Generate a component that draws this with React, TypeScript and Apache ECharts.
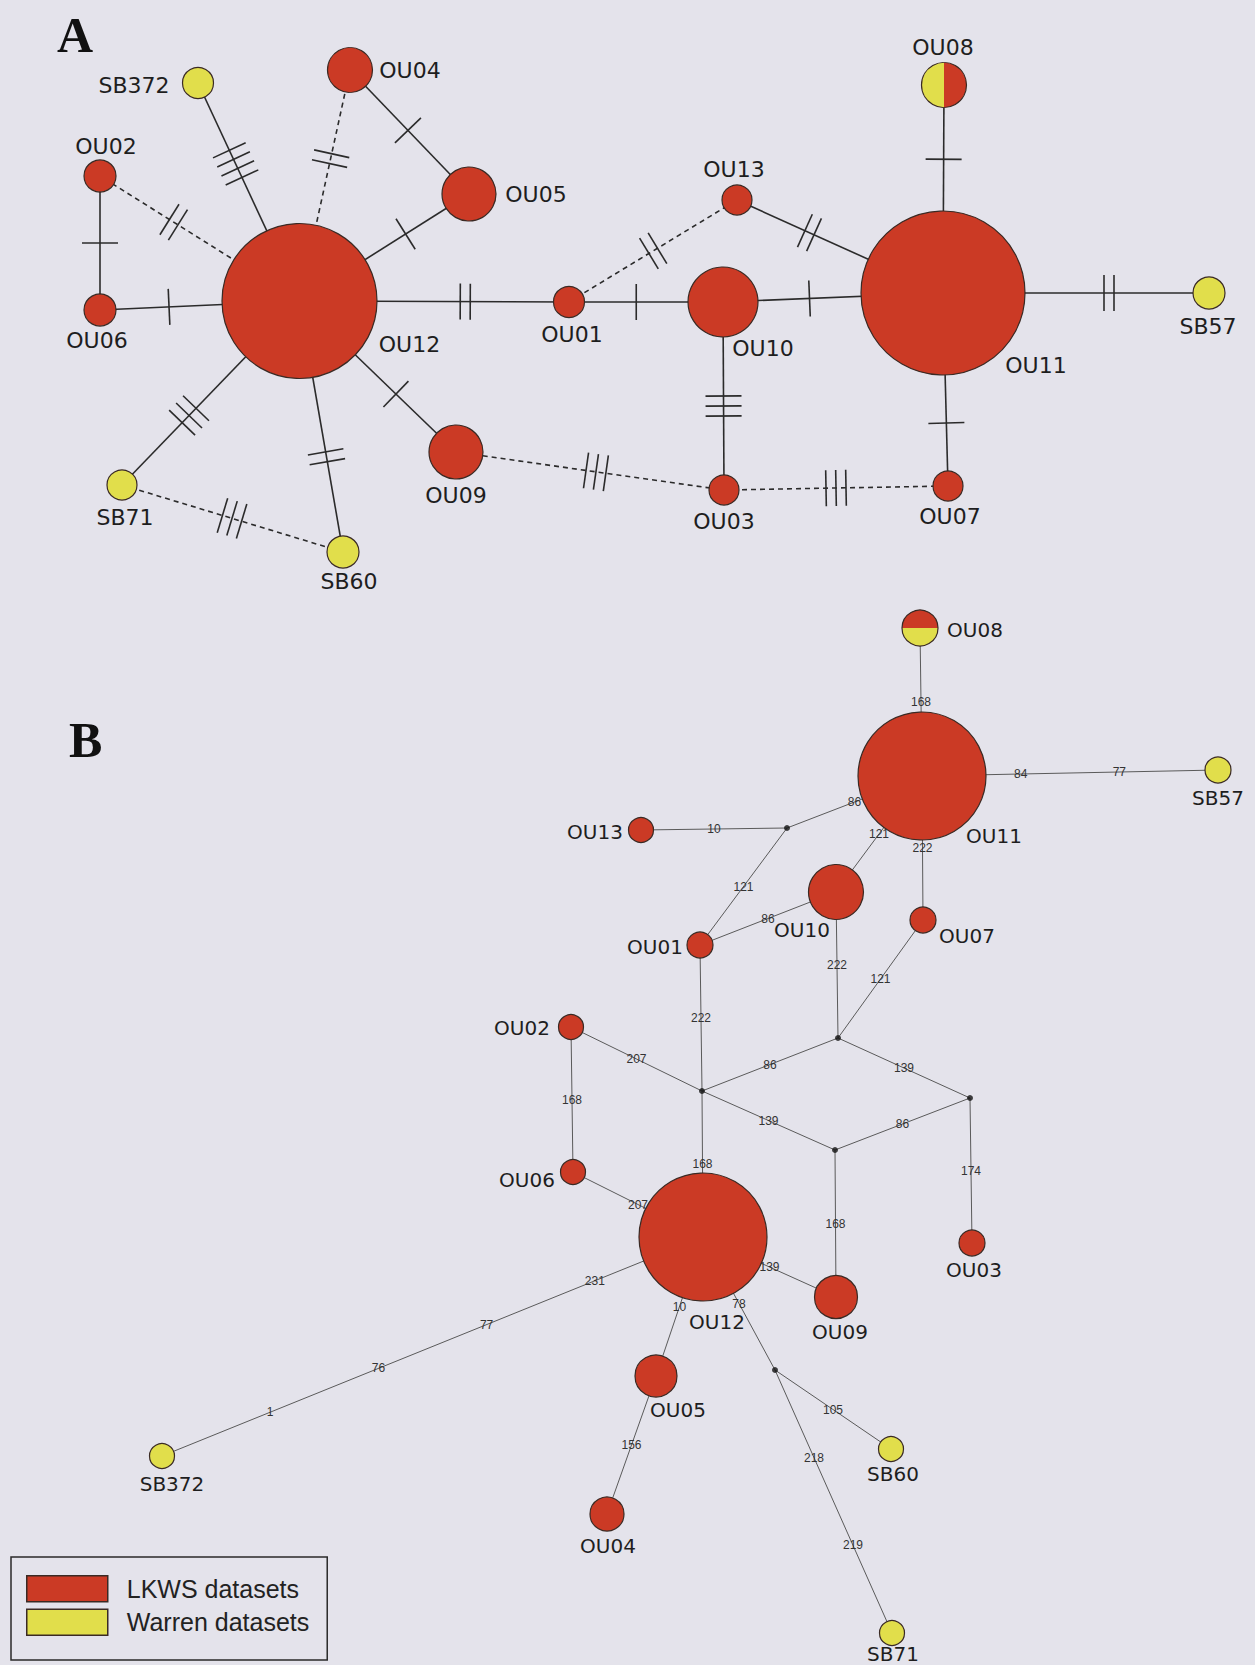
import React, { useEffect, useRef } from 'react';
import * as echarts from 'echarts';

const W = 1255;
const H = 1665;
const RED = '#cb3a25';
const YELLOW = '#e1de4b';
const BG = '#e4e3eb';
const INK = '#2b2b2b';
const NODE_BORDER = '#3a2a24';

// haplotype: name, x, y, radius (frequency-scaled), group (L = LKWS, W = Warren, M = mixed)
type Hap = [string, number, number, number, string];

// Panel A (median-joining network with mutation ticks)
const hapA: Hap[] = [
  ['OU12', 299.5, 301, 77.5, 'L'],
  ['OU11', 943, 293, 82, 'L'],
  ['OU10', 723, 302, 35, 'L'],
  ['OU05', 469, 194, 27, 'L'],
  ['OU04', 350, 70, 22.5, 'L'],
  ['OU09', 456, 452, 27, 'L'],
  ['OU02', 100, 176, 16, 'L'],
  ['OU06', 100, 310, 16, 'L'],
  ['OU01', 569, 302, 15.5, 'L'],
  ['OU13', 737, 200, 15, 'L'],
  ['OU03', 724, 490, 15, 'L'],
  ['OU07', 948, 486, 15, 'L'],
  ['OU08', 944, 85, 22.5, 'M'],
  ['SB372', 198, 83, 15.5, 'W'],
  ['SB57', 1209, 293, 16, 'W'],
  ['SB71', 122, 485, 15, 'W'],
  ['SB60', 343, 552, 16, 'W'],
];

// from, to, number of mutations, dashed (1 = alternative link)
const edgesA: [string, string, number, number][] = [
  ['OU12', 'SB372', 4, 0],
  ['OU12', 'OU04', 2, 1],
  ['OU04', 'OU05', 1, 0],
  ['OU12', 'OU05', 1, 0],
  ['OU12', 'OU02', 2, 1],
  ['OU02', 'OU06', 1, 0],
  ['OU06', 'OU12', 1, 0],
  ['OU12', 'OU01', 2, 0],
  ['OU12', 'OU09', 1, 0],
  ['OU12', 'SB60', 2, 0],
  ['OU12', 'SB71', 3, 0],
  ['SB71', 'SB60', 3, 1],
  ['OU01', 'OU13', 2, 1],
  ['OU01', 'OU10', 1, 0],
  ['OU10', 'OU11', 1, 0],
  ['OU13', 'OU11', 2, 0],
  ['OU10', 'OU03', 3, 0],
  ['OU09', 'OU03', 3, 1],
  ['OU03', 'OU07', 3, 1],
  ['OU11', 'OU07', 1, 0],
  ['OU11', 'OU08', 1, 0],
  ['OU11', 'SB57', 2, 0],
];

// Panel B (network with mutated positions)
const hapB: Hap[] = [
  ['OU11', 922, 776, 64, 'L'],
  ['OU12', 703, 1237, 64, 'L'],
  ['OU10', 836, 892, 27.5, 'L'],
  ['OU09', 836, 1297, 21.5, 'L'],
  ['OU05', 656, 1376, 21, 'L'],
  ['OU04', 607, 1514, 17, 'L'],
  ['OU13', 641, 830, 12.5, 'L'],
  ['OU07', 923, 920, 13, 'L'],
  ['OU01', 700, 945, 13, 'L'],
  ['OU02', 571, 1027, 12.5, 'L'],
  ['OU06', 573, 1172, 12.5, 'L'],
  ['OU03', 972, 1243, 13, 'L'],
  ['OU08', 920, 628, 18, 'M'],
  ['SB57', 1218, 770, 13, 'W'],
  ['SB60', 891, 1449, 12.5, 'W'],
  ['SB372', 162, 1456, 12.5, 'W'],
  ['SB71', 892, 1633, 12.5, 'W'],
];

const junctionsB: [string, number, number][] = [
  ['J1', 787, 828],
  ['J2', 838, 1038],
  ['J3', 702, 1091],
  ['J4', 970, 1098],
  ['J5', 835, 1150],
  ['J6', 775, 1370],
];

// from, to, mutated positions along the link
const edgesB: [string, string, string[]][] = [
  ['OU08', 'OU11', ['168']],
  ['OU11', 'SB57', ['84', '77']],
  ['OU11', 'J1', ['86']],
  ['OU13', 'J1', ['10']],
  ['OU11', 'OU10', ['121']],
  ['OU11', 'OU07', ['222']],
  ['J1', 'OU01', ['121']],
  ['OU01', 'OU10', ['86']],
  ['OU10', 'J2', ['222']],
  ['OU07', 'J2', ['121']],
  ['OU01', 'J3', ['222']],
  ['OU02', 'J3', ['207']],
  ['J3', 'J2', ['86']],
  ['J2', 'J4', ['139']],
  ['OU02', 'OU06', ['168']],
  ['J3', 'J5', ['139']],
  ['J5', 'J4', ['86']],
  ['J3', 'OU12', ['168']],
  ['J4', 'OU03', ['174']],
  ['OU06', 'OU12', ['207']],
  ['J5', 'OU09', ['168']],
  ['OU12', 'OU09', ['139']],
  ['OU12', 'SB372', ['231', '77', '76', '1']],
  ['OU12', 'OU05', ['10']],
  ['OU12', 'J6', ['78']],
  ['J6', 'SB60', ['105']],
  ['J6', 'SB71', ['218', '219']],
  ['OU05', 'OU04', ['156']],
];

const seriesNames = ['LKWS datasets', 'Warren datasets'];

// label placement (layout, not data): offset of the label centre from the node centre
const labelOffsetA: Record<string, [number, number]> = {
  OU02: [6, -30], OU06: [-3, 30], SB372: [-64, 2], OU04: [60, 0], OU05: [67, 0],
  OU13: [-3, -31], OU01: [3, 32], OU10: [40, 46], OU12: [110, 43], OU11: [93, 72],
  OU08: [-1, -38], SB57: [-1, 33], SB71: [3, 32], SB60: [6, 29], OU09: [0, 43],
  OU03: [0, 31], OU07: [2, 30],
};
const labelOffsetB: Record<string, [number, number]> = {
  OU08: [55, 2], OU11: [72, 60], SB57: [0, 28], OU13: [-46, 2], OU10: [-34, 38],
  OU07: [44, 16], OU01: [-45, 2], OU02: [-49, 1], OU06: [-46, 8], OU12: [14, 85],
  OU03: [2, 27], OU09: [4, 35], OU05: [22, 34], SB60: [2, 25], SB372: [10, 28],
  OU04: [1, 32], SB71: [1, 21],
};

const FONT_A = 22;
const FONT_B = 20;

function findNode(list: Hap[], name: string): { x: number; y: number; r: number } {
  const h = list.find((n) => n[0] === name);
  if (h) return { x: h[1], y: h[2], r: h[3] };
  const j = junctionsB.find((n) => n[0] === name);
  if (j) return { x: j[1], y: j[2], r: 0 };
  return { x: 0, y: 0, r: 0 };
}

function nodeItems(list: Hap[], offsets: Record<string, [number, number]>, group: string, fontSize: number) {
  return list
    .filter((h) => h[4] === group)
    .map((h) => ({
      name: h[0],
      value: [h[1], h[2]],
      symbolSize: h[3] * 2,
      label: { offset: offsets[h[0]], fontSize },
    }));
}

export default function App() {
  const ref = useRef<HTMLDivElement>(null);

  useEffect(() => {
    document.body.style.margin = '0';
    if (!ref.current) return;
    const chart = echarts.init(ref.current, undefined, { renderer: 'svg' });

    const edgeAData = edgesA.map(([a, b, n, d]) => {
      const p = findNode(hapA, a);
      const q = findNode(hapA, b);
      return [p.x, p.y, q.x, q.y, p.r, q.r, n, d];
    });

    const edgeBData = edgesB.map(([a, b]) => {
      const p = findNode(hapB, a);
      const q = findNode(hapB, b);
      return [p.x, p.y, q.x, q.y];
    });

    const edgeLabelData: number[][] = [];
    const edgeLabelText: string[] = [];
    edgesB.forEach(([a, b, labels]) => {
      const p = findNode(hapB, a);
      const q = findNode(hapB, b);
      labels.forEach((t, k) => {
        edgeLabelData.push([p.x, p.y, q.x, q.y, k + 1, labels.length + 1]);
        edgeLabelText.push(t);
      });
    });

    const mixedData: number[][] = [];
    const a8 = findNode(hapA, 'OU08');
    mixedData.push([a8.x, a8.y, a8.r, 0, labelOffsetA.OU08[0], labelOffsetA.OU08[1], FONT_A]);
    const b8 = findNode(hapB, 'OU08');
    mixedData.push([b8.x, b8.y, b8.r, 1, labelOffsetB.OU08[0], labelOffsetB.OU08[1], FONT_B]);

    const nodeLabel = {
      show: true,
      position: 'inside',
      formatter: '{b}',
      color: '#1e1e1e',
      fontFamily: 'DejaVu Sans',
      align: 'center',
      verticalAlign: 'middle',
      textBorderWidth: 0,
    };

    const option: any = {
      animation: false,
      backgroundColor: BG,
      grid: { left: 0, right: 0, top: 0, bottom: 0, outerBoundsMode: 'none' },
      xAxis: { type: 'value', min: 0, max: W, show: false },
      yAxis: { type: 'value', min: 0, max: H, inverse: true, show: false },
      legend: {
        data: seriesNames,
        orient: 'vertical',
        left: 11,
        top: 1557,
        icon: 'rect',
        itemWidth: 81,
        itemHeight: 26,
        itemGap: 6,
        padding: [18, 18, 24, 15],
        borderColor: '#2a2a2a',
        borderWidth: 1.5,
        selectedMode: false,
        itemStyle: { borderColor: '#3a2a24', borderWidth: 1.5 },
        textStyle: {
          fontFamily: 'Liberation Sans',
          fontSize: 25,
          color: '#222',
          padding: [0, 0, 0, 14],
        },
      },
      graphic: [
        {
          type: 'text',
          x: 57,
          y: 35,
          style: { text: 'A', font: 'bold 50px "Liberation Serif"', fill: '#111', verticalAlign: 'middle' },
        },
        {
          type: 'text',
          x: 69,
          y: 740,
          style: { text: 'B', font: 'bold 50px "Liberation Serif"', fill: '#111', verticalAlign: 'middle' },
        },
      ],
      series: [
        {
          type: 'custom',
          name: 'linksA',
          z: 1,
          silent: true,
          data: edgeAData,
          renderItem: (params: any, api: any) => {
            const p1 = api.coord([api.value(0), api.value(1)]);
            const p2 = api.coord([api.value(2), api.value(3)]);
            const unit = api.size([1, 1])[0];
            const r1 = api.value(4) * unit;
            const r2 = api.value(5) * unit;
            const n = api.value(6);
            const dashed = api.value(7) === 1;
            const dx = p2[0] - p1[0];
            const dy = p2[1] - p1[1];
            const len = Math.sqrt(dx * dx + dy * dy);
            const ux = dx / len;
            const uy = dy / len;
            const nx = -uy;
            const ny = ux;
            const b1 = [p1[0] + ux * r1, p1[1] + uy * r1];
            const b2 = [p2[0] - ux * r2, p2[1] - uy * r2];
            const mx = (b1[0] + b2[0]) / 2;
            const my = (b1[1] + b2[1]) / 2;
            const children: any[] = [
              {
                type: 'line',
                shape: { x1: p1[0], y1: p1[1], x2: p2[0], y2: p2[1] },
                style: { stroke: INK, lineWidth: 1.6, lineDash: dashed ? [5, 4] : null },
              },
            ];
            const spacing = 10;
            const half = 18;
            for (let k = 0; k < n; k++) {
              const o = (k - (n - 1) / 2) * spacing;
              const cx = mx + ux * o;
              const cy = my + uy * o;
              children.push({
                type: 'line',
                shape: { x1: cx - nx * half, y1: cy - ny * half, x2: cx + nx * half, y2: cy + ny * half },
                style: { stroke: INK, lineWidth: 1.6 },
              });
            }
            return { type: 'group', children };
          },
        },
        {
          type: 'custom',
          name: 'linksB',
          z: 1,
          silent: true,
          data: edgeBData,
          renderItem: (params: any, api: any) => {
            const p1 = api.coord([api.value(0), api.value(1)]);
            const p2 = api.coord([api.value(2), api.value(3)]);
            return {
              type: 'line',
              shape: { x1: p1[0], y1: p1[1], x2: p2[0], y2: p2[1] },
              style: { stroke: '#5a5a5a', lineWidth: 1 },
            };
          },
        },
        {
          type: 'scatter',
          name: seriesNames[0],
          z: 2,
          silent: true,
          symbol: 'circle',
          itemStyle: { color: RED, borderColor: NODE_BORDER, borderWidth: 1.2, opacity: 1 },
          label: nodeLabel,
          data: [
            ...nodeItems(hapA, labelOffsetA, 'L', FONT_A),
            ...nodeItems(hapB, labelOffsetB, 'L', FONT_B),
          ],
        },
        {
          type: 'scatter',
          name: seriesNames[1],
          z: 2,
          silent: true,
          symbol: 'circle',
          itemStyle: { color: YELLOW, borderColor: NODE_BORDER, borderWidth: 1.2, opacity: 1 },
          label: nodeLabel,
          data: [
            ...nodeItems(hapA, labelOffsetA, 'W', FONT_A),
            ...nodeItems(hapB, labelOffsetB, 'W', FONT_B),
          ],
        },
        {
          type: 'scatter',
          name: 'median vectors',
          z: 2,
          silent: true,
          symbol: 'circle',
          symbolSize: 6,
          itemStyle: { color: '#111' },
          data: junctionsB.map((j) => ({ name: j[0], value: [j[1], j[2]] })),
        },
        {
          type: 'custom',
          name: 'mixed',
          z: 3,
          silent: true,
          data: mixedData,
          renderItem: (params: any, api: any) => {
            const c = api.coord([api.value(0), api.value(1)]);
            const r = api.value(2) * api.size([1, 1])[0];
            const mode = api.value(3);
            const halves: [number, number, string][] =
              mode === 0
                ? [
                    [Math.PI / 2, Math.PI * 1.5, YELLOW],
                    [-Math.PI / 2, Math.PI / 2, RED],
                  ]
                : [
                    [Math.PI, Math.PI * 2, RED],
                    [0, Math.PI, YELLOW],
                  ];
            const children: any[] = halves.map(([s, e, col]) => ({
              type: 'sector',
              shape: { cx: c[0], cy: c[1], r0: 0, r, startAngle: s, endAngle: e, clockwise: true },
              style: { fill: col },
            }));
            children.push({
              type: 'circle',
              shape: { cx: c[0], cy: c[1], r },
              style: { fill: 'none', stroke: NODE_BORDER, lineWidth: 1.2 },
            });
            children.push({
              type: 'text',
              x: c[0] + api.value(4),
              y: c[1] + api.value(5),
              style: {
                text: 'OU08',
                fill: '#1e1e1e',
                fontFamily: 'DejaVu Sans',
                fontSize: api.value(6),
                align: 'center',
                verticalAlign: 'middle',
              },
            });
            return { type: 'group', children };
          },
        },
        {
          type: 'custom',
          name: 'positions',
          z: 4,
          silent: true,
          data: edgeLabelData,
          renderItem: (params: any, api: any) => {
            const p1 = api.coord([api.value(0), api.value(1)]);
            const p2 = api.coord([api.value(2), api.value(3)]);
            const t = api.value(4) / api.value(5);
            return {
              type: 'text',
              x: p1[0] + (p2[0] - p1[0]) * t,
              y: p1[1] + (p2[1] - p1[1]) * t,
              style: {
                text: edgeLabelText[params.dataIndex],
                fill: '#333',
                fontFamily: 'Liberation Sans',
                fontSize: 12,
                align: 'center',
                verticalAlign: 'middle',
              },
            };
          },
        },
      ],
    };

    chart.setOption(option);
    return () => {
      chart.dispose();
    };
  }, []);

  return <div ref={ref} style={{ width: W, height: H }} />;
}
